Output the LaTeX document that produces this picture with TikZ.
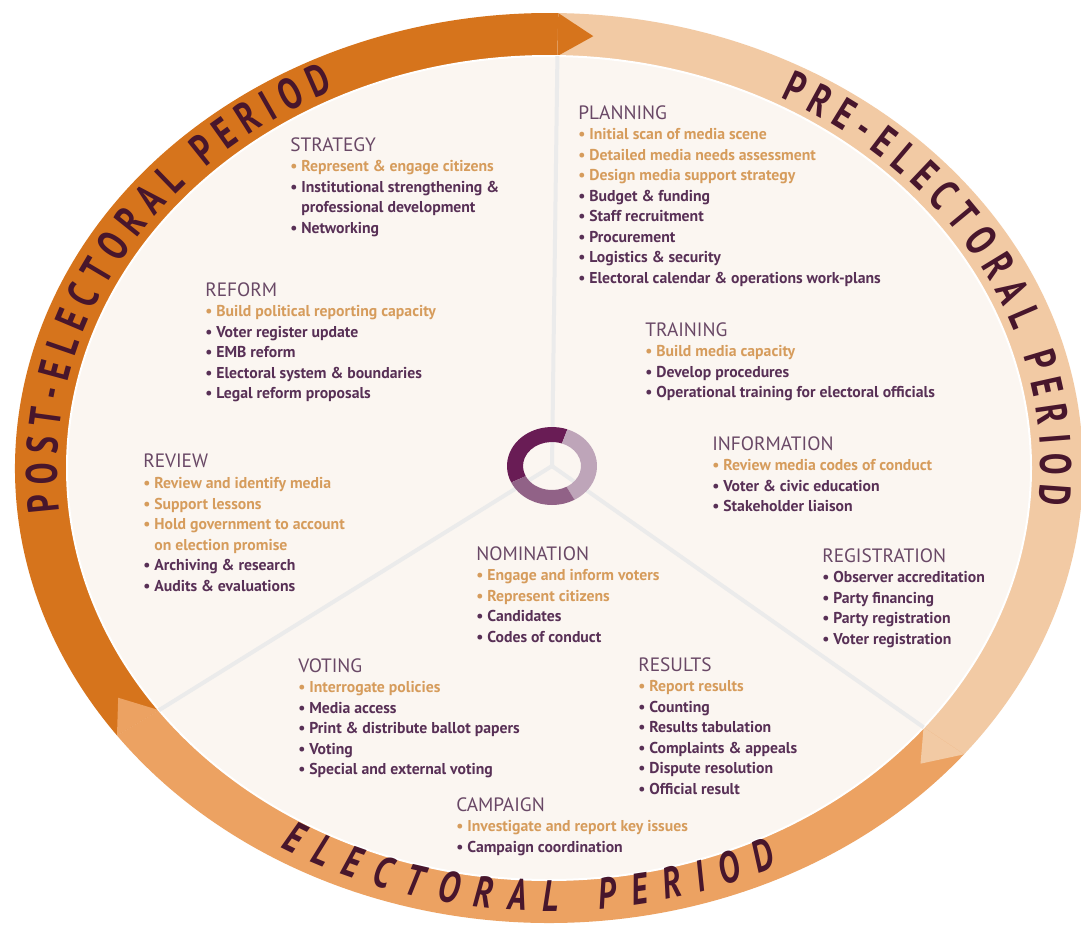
\documentclass[tikz,border=0pt]{standalone}
\usepackage{fontspec}
\setmainfont{PT Sans}
\newfontfamily\bandfont{PT Sans}[FakeStretch=0.74]
\usetikzlibrary{decorations.text}

% band and text colours
\definecolor{postorange}{RGB}{214,116,28}
\definecolor{preorange}{RGB}{242,202,164}
\definecolor{elecorange}{RGB}{236,162,98}
\definecolor{discream}{RGB}{251,246,241}
\definecolor{itemtan}{RGB}{214,156,92}
\definecolor{itemplum}{RGB}{88,48,86}
\definecolor{headplum}{RGB}{105,72,102}
\definecolor{bandplum}{RGB}{72,22,44}
\definecolor{ringdark}{RGB}{105,28,85}
\definecolor{ringmid}{RGB}{145,98,135}
\definecolor{ringlight}{RGB}{190,165,185}

\newcommand{\phase}[1]{{\mdseries\fontsize{14.5}{15.4}\selectfont\color{headplum}#1}}
\newcommand{\tanitem}[1]{{\color{itemtan}\textbullet\ #1}}
\newcommand{\plumitem}[1]{\textbullet\ #1}
\newcommand{\wrapline}[1]{\phantom{\textbullet\ }#1}
\newcommand{\bandfmt}{\bandfont\bfseries\fontsize{33}{33}\selectfont\color{bandplum}}

\begin{document}
\begin{tikzpicture}[x=0.75pt, y=0.75pt,
    block/.style={anchor=north west, align=left, inner sep=0pt, text=itemplum,
      font=\fontsize{11.8}{15.4}\selectfont\bfseries},
    divider/.style={draw=black!8, line width=3pt},
    bandtext/.style={decorate, decoration={text along path, text align={fit to path}, text={#1}}}]
  \fill[white] (0,0) rectangle (1081,-925);
  \useasboundingbox (0,0) rectangle (1081,-925);

  \begin{scope}[shift={(549,-468)}]
    % the three period bands, tips drawn last so they sit on the next band
    \foreach \col/\a/\b in {postorange/-144/-271, preorange/89/-39, elecorange/-39/-144}
      \fill[\col] (\a:534 and 455) arc[start angle=\a, end angle=\b, x radius=534, y radius=455]
        -- (\b:482 and 412) arc[start angle=\b, end angle=\a, x radius=482, y radius=412] -- cycle;
    \foreach \col/\b/\t in {postorange/-271/-275, preorange/-39/-43, elecorange/-144/-148}
      \fill[\col] (\b:534 and 455) -- (\t:508 and 433.5) -- (\b:482 and 412) -- cycle;

    \fill[discream] (0,0) ellipse [x radius=482, y radius=412];
    \draw[white, line width=1.5pt] (0,0) ellipse [x radius=482, y radius=412];

    % band labels
    \path[bandtext={|\bandfmt|POST-ELECTORAL PERIOD}]
      (-174:492 and 420) arc[start angle=-174, end angle=-244, x radius=492, y radius=420];
    \path[bandtext={|\bandfmt|PRE-ELECTORAL PERIOD}]
      (62:492 and 420) arc[start angle=62, end angle=-5, x radius=492, y radius=420];
    \path[bandtext={|\bandfmt\itshape|ELECTORAL PERIOD}]
      (-121:521 and 443) arc[start angle=-121, end angle=-64, x radius=521, y radius=443];

    % dividers between the periods
    \coordinate (hub) at (3,2);
    \coordinate (toppost) at (89:482 and 412);
    \coordinate (rightpre) at (-39:482 and 412);
    \coordinate (leftelec) at (-144:482 and 412);
    \draw[divider] (hub) -- (toppost);
    \draw[divider] (hub) -- (rightpre);
    \draw[divider] (hub) -- (leftelec);

    % cycle ring in the middle
    \begin{scope}[shift={(hub)}]
      \foreach \col/\a/\b in {ringdark/205/70, ringlight/70/-60, ringmid/-60/-155}
        \fill[\col] (\a:45 and 39) arc[start angle=\a, end angle=\b, x radius=45, y radius=39]
          -- (\b:29 and 24) arc[start angle=\b, end angle=\a, x radius=29, y radius=24] -- cycle;
    \end{scope}
  \end{scope}

  % post-electoral
  \node[block] (strategy) at (290,-137) {\phase{STRATEGY}\\
    \tanitem{Represent \& engage citizens}\\
    \plumitem{Institutional strengthening \&}\\
    \wrapline{professional development}\\
    \plumitem{Networking}};
  \node[block] (reform) at (205,-282) {\phase{REFORM}\\
    \tanitem{Build political reporting capacity}\\
    \plumitem{Voter register update}\\
    \plumitem{EMB reform}\\
    \plumitem{Electoral system \& boundaries}\\
    \plumitem{Legal reform proposals}};
  \node[block] (review) at (143,-454) {\phase{REVIEW}\\
    \tanitem{Review and identify media}\\
    \tanitem{Support lessons}\\
    \tanitem{Hold government to account}\\
    {\color{itemtan}\wrapline{on election promise}}\\
    \plumitem{Archiving \& research}\\
    \plumitem{Audits \& evaluations}};

  % pre-electoral
  \node[block] (planning) at (578,-105) {\phase{PLANNING}\\
    \tanitem{Initial scan of media scene}\\
    \tanitem{Detailed media needs assessment}\\
    \tanitem{Design media support strategy}\\
    \plumitem{Budget \& funding}\\
    \plumitem{Staff recruitment}\\
    \plumitem{Procurement}\\
    \plumitem{Logistics \& security}\\
    \plumitem{Electoral calendar \& operations work-plans}};
  \node[block] (training) at (645,-322) {\phase{TRAINING}\\
    \tanitem{Build media capacity}\\
    \plumitem{Develop procedures}\\
    \plumitem{Operational training for electoral officials}};
  \node[block] (information) at (712,-436) {\phase{INFORMATION}\\
    \tanitem{Review media codes of conduct}\\
    \plumitem{Voter \& civic education}\\
    \plumitem{Stakeholder liaison}};
  \node[block] (registration) at (822,-548) {\phase{REGISTRATION}\\
    \plumitem{Observer accreditation}\\
    \plumitem{Party financing}\\
    \plumitem{Party registration}\\
    \plumitem{Voter registration}};

  % electoral
  \node[block] (nomination) at (476,-546) {\phase{NOMINATION}\\
    \tanitem{Engage and inform voters}\\
    \tanitem{Represent citizens}\\
    \plumitem{Candidates}\\
    \plumitem{Codes of conduct}};
  \node[block] (voting) at (298,-658) {\phase{VOTING}\\
    \tanitem{Interrogate policies}\\
    \plumitem{Media access}\\
    \plumitem{Print \& distribute ballot papers}\\
    \plumitem{Voting}\\
    \plumitem{Special and external voting}};
  \node[block] (results) at (638,-657) {\phase{RESULTS}\\
    \tanitem{Report results}\\
    \plumitem{Counting}\\
    \plumitem{Results tabulation}\\
    \plumitem{Complaints \& appeals}\\
    \plumitem{Dispute resolution}\\
    \plumitem{Official result}};
  \node[block] (campaign) at (456,-797) {\phase{CAMPAIGN}\\
    \tanitem{Investigate and report key issues}\\
    \plumitem{Campaign coordination}};
\end{tikzpicture}
\end{document}
